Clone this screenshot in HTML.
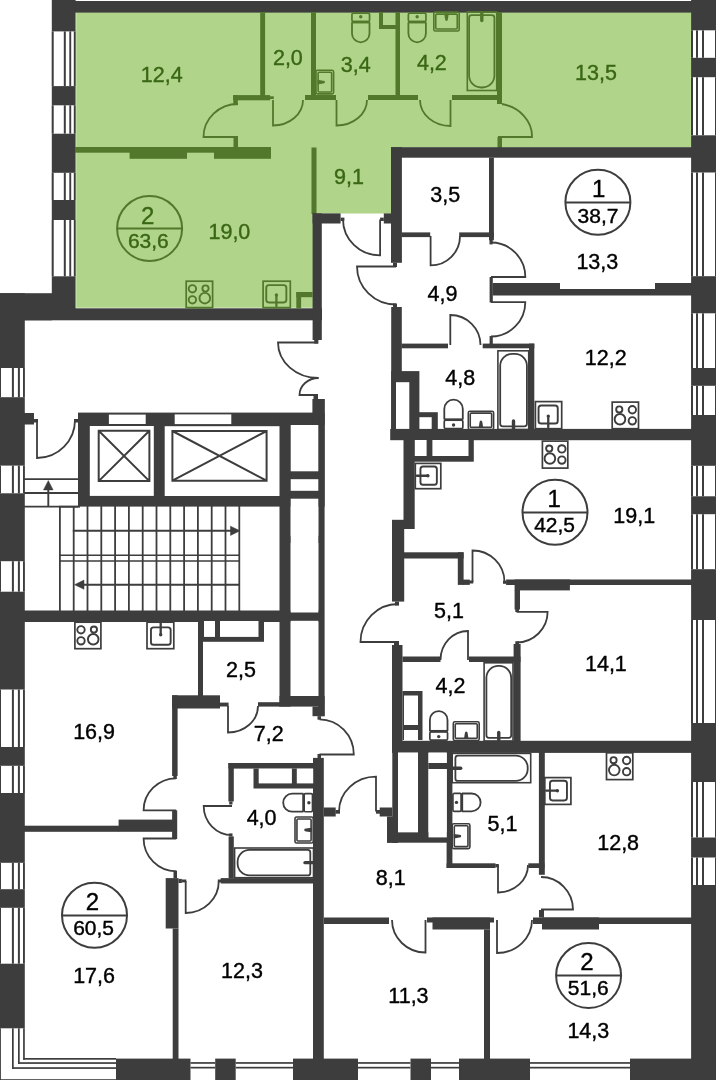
<!DOCTYPE html>
<html lang="ru">
<head>
<meta charset="utf-8">
<title>План этажа</title>
<style>
html,body{margin:0;padding:0;background:#fff;}
body{width:716px;height:1080px;overflow:hidden;font-family:"Liberation Sans",Arial,sans-serif;}
svg{display:block;}
</style>
</head>
<body>
<svg width="716" height="1080" viewBox="0 0 716 1080" font-family="'Liberation Sans', Arial, sans-serif">
<path d="M76.2 12H691.3V147.4H391.2V213.4H316V307.7H76.2Z" fill="#b0d48a"/>
<rect x="52" y="1" width="664" height="11.6" fill="#3d3d3d"/>
<rect x="51.8" y="0" width="23.8" height="320" fill="#3d3d3d"/>
<rect x="0" y="293.2" width="52" height="27.1" fill="#3d3d3d"/>
<rect x="0" y="308.3" width="322" height="12" fill="#3d3d3d"/>
<rect x="0" y="293.2" width="24.8" height="786.8" fill="#3d3d3d"/>
<rect x="691.1" y="0" width="24.9" height="1080" fill="#3d3d3d"/>
<rect x="116" y="1058.6" width="600" height="21.4" fill="#3d3d3d"/>
<rect x="51.7" y="31.4" width="24.1" height="54.7" fill="#fff"/>
<rect x="51.8" y="31.4" width="1.9" height="54.7" fill="#3d3d3d"/>
<rect x="63.8" y="31.4" width="2" height="54.7" fill="#3d3d3d"/>
<rect x="69.3" y="31.4" width="1.9" height="54.7" fill="#3d3d3d"/>
<rect x="73.8" y="31.4" width="1.9" height="54.7" fill="#3d3d3d"/>
<rect x="51.7" y="105.3" width="24.1" height="28.4" fill="#fff"/>
<rect x="51.8" y="105.3" width="1.9" height="28.4" fill="#3d3d3d"/>
<rect x="63.8" y="105.3" width="2" height="28.4" fill="#3d3d3d"/>
<rect x="69.3" y="105.3" width="1.9" height="28.4" fill="#3d3d3d"/>
<rect x="73.8" y="105.3" width="1.9" height="28.4" fill="#3d3d3d"/>
<rect x="51.7" y="172.8" width="24.1" height="27.2" fill="#fff"/>
<rect x="51.8" y="172.8" width="1.9" height="27.2" fill="#3d3d3d"/>
<rect x="63.8" y="172.8" width="2" height="27.2" fill="#3d3d3d"/>
<rect x="69.3" y="172.8" width="1.9" height="27.2" fill="#3d3d3d"/>
<rect x="73.8" y="172.8" width="1.9" height="27.2" fill="#3d3d3d"/>
<rect x="51.7" y="220" width="24.1" height="56.3" fill="#fff"/>
<rect x="51.8" y="220" width="1.9" height="56.3" fill="#3d3d3d"/>
<rect x="63.8" y="220" width="2" height="56.3" fill="#3d3d3d"/>
<rect x="69.3" y="220" width="1.9" height="56.3" fill="#3d3d3d"/>
<rect x="73.8" y="220" width="1.9" height="56.3" fill="#3d3d3d"/>
<rect x="-0.2" y="368" width="25.2" height="29.2" fill="#fff"/>
<rect x="0" y="368" width="1" height="29.2" fill="#3d3d3d"/>
<rect x="11.9" y="368" width="2" height="29.2" fill="#3d3d3d"/>
<rect x="17.9" y="368" width="2" height="29.2" fill="#3d3d3d"/>
<rect x="23" y="368" width="1.9" height="29.2" fill="#3d3d3d"/>
<rect x="-0.2" y="465.6" width="25.2" height="27.7" fill="#fff"/>
<rect x="0" y="465.6" width="1" height="27.7" fill="#3d3d3d"/>
<rect x="11.9" y="465.6" width="2" height="27.7" fill="#3d3d3d"/>
<rect x="17.9" y="465.6" width="2" height="27.7" fill="#3d3d3d"/>
<rect x="23" y="465.6" width="1.9" height="27.7" fill="#3d3d3d"/>
<rect x="-0.2" y="561.2" width="25.2" height="30.5" fill="#fff"/>
<rect x="0" y="561.2" width="1" height="30.5" fill="#3d3d3d"/>
<rect x="11.9" y="561.2" width="2" height="30.5" fill="#3d3d3d"/>
<rect x="17.9" y="561.2" width="2" height="30.5" fill="#3d3d3d"/>
<rect x="23" y="561.2" width="1.9" height="30.5" fill="#3d3d3d"/>
<rect x="-0.2" y="689.5" width="25.2" height="57.5" fill="#fff"/>
<rect x="0" y="689.5" width="1" height="57.5" fill="#3d3d3d"/>
<rect x="11.9" y="689.5" width="2" height="57.5" fill="#3d3d3d"/>
<rect x="17.9" y="689.5" width="2" height="57.5" fill="#3d3d3d"/>
<rect x="23" y="689.5" width="1.9" height="57.5" fill="#3d3d3d"/>
<rect x="-0.2" y="765.8" width="25.2" height="27.2" fill="#fff"/>
<rect x="0" y="765.8" width="1" height="27.2" fill="#3d3d3d"/>
<rect x="11.9" y="765.8" width="2" height="27.2" fill="#3d3d3d"/>
<rect x="17.9" y="765.8" width="2" height="27.2" fill="#3d3d3d"/>
<rect x="23" y="765.8" width="1.9" height="27.2" fill="#3d3d3d"/>
<rect x="-0.2" y="862.8" width="25.2" height="26.4" fill="#fff"/>
<rect x="0" y="862.8" width="1" height="26.4" fill="#3d3d3d"/>
<rect x="11.9" y="862.8" width="2" height="26.4" fill="#3d3d3d"/>
<rect x="17.9" y="862.8" width="2" height="26.4" fill="#3d3d3d"/>
<rect x="23" y="862.8" width="1.9" height="26.4" fill="#3d3d3d"/>
<rect x="-0.2" y="907.8" width="25.2" height="55.9" fill="#fff"/>
<rect x="0" y="907.8" width="1" height="55.9" fill="#3d3d3d"/>
<rect x="11.9" y="907.8" width="2" height="55.9" fill="#3d3d3d"/>
<rect x="17.9" y="907.8" width="2" height="55.9" fill="#3d3d3d"/>
<rect x="23" y="907.8" width="1.9" height="55.9" fill="#3d3d3d"/>
<rect x="690.9" y="30.3" width="25.3" height="27.5" fill="#fff"/>
<rect x="691" y="30.3" width="2" height="27.5" fill="#3d3d3d"/>
<rect x="696" y="30.3" width="2" height="27.5" fill="#3d3d3d"/>
<rect x="702" y="30.3" width="2" height="27.5" fill="#3d3d3d"/>
<rect x="715" y="30.3" width="1" height="27.5" fill="#3d3d3d"/>
<rect x="690.9" y="77.2" width="25.3" height="58.1" fill="#fff"/>
<rect x="691" y="77.2" width="2" height="58.1" fill="#3d3d3d"/>
<rect x="696" y="77.2" width="2" height="58.1" fill="#3d3d3d"/>
<rect x="702" y="77.2" width="2" height="58.1" fill="#3d3d3d"/>
<rect x="715" y="77.2" width="1" height="58.1" fill="#3d3d3d"/>
<rect x="690.9" y="172.5" width="25.3" height="103.7" fill="#fff"/>
<rect x="691" y="172.5" width="2" height="103.7" fill="#3d3d3d"/>
<rect x="696" y="172.5" width="2" height="103.7" fill="#3d3d3d"/>
<rect x="702" y="172.5" width="2" height="103.7" fill="#3d3d3d"/>
<rect x="715" y="172.5" width="1" height="103.7" fill="#3d3d3d"/>
<rect x="690.9" y="313.3" width="25.3" height="54.7" fill="#fff"/>
<rect x="691" y="313.3" width="2" height="54.7" fill="#3d3d3d"/>
<rect x="696" y="313.3" width="2" height="54.7" fill="#3d3d3d"/>
<rect x="702" y="313.3" width="2" height="54.7" fill="#3d3d3d"/>
<rect x="715" y="313.3" width="1" height="54.7" fill="#3d3d3d"/>
<rect x="690.9" y="385.8" width="25.3" height="29.2" fill="#fff"/>
<rect x="691" y="385.8" width="2" height="29.2" fill="#3d3d3d"/>
<rect x="696" y="385.8" width="2" height="29.2" fill="#3d3d3d"/>
<rect x="702" y="385.8" width="2" height="29.2" fill="#3d3d3d"/>
<rect x="715" y="385.8" width="1" height="29.2" fill="#3d3d3d"/>
<rect x="690.9" y="465.8" width="25.3" height="30.5" fill="#fff"/>
<rect x="691" y="465.8" width="2" height="30.5" fill="#3d3d3d"/>
<rect x="696" y="465.8" width="2" height="30.5" fill="#3d3d3d"/>
<rect x="702" y="465.8" width="2" height="30.5" fill="#3d3d3d"/>
<rect x="715" y="465.8" width="1" height="30.5" fill="#3d3d3d"/>
<rect x="690.9" y="514.2" width="25.3" height="55" fill="#fff"/>
<rect x="691" y="514.2" width="2" height="55" fill="#3d3d3d"/>
<rect x="696" y="514.2" width="2" height="55" fill="#3d3d3d"/>
<rect x="702" y="514.2" width="2" height="55" fill="#3d3d3d"/>
<rect x="715" y="514.2" width="1" height="55" fill="#3d3d3d"/>
<rect x="690.9" y="620" width="25.3" height="103" fill="#fff"/>
<rect x="691" y="620" width="2" height="103" fill="#3d3d3d"/>
<rect x="696" y="620" width="2" height="103" fill="#3d3d3d"/>
<rect x="702" y="620" width="2" height="103" fill="#3d3d3d"/>
<rect x="715" y="620" width="1" height="103" fill="#3d3d3d"/>
<rect x="690.9" y="782" width="25.3" height="55.5" fill="#fff"/>
<rect x="691" y="782" width="2" height="55.5" fill="#3d3d3d"/>
<rect x="696" y="782" width="2" height="55.5" fill="#3d3d3d"/>
<rect x="702" y="782" width="2" height="55.5" fill="#3d3d3d"/>
<rect x="715" y="782" width="1" height="55.5" fill="#3d3d3d"/>
<rect x="690.9" y="857.5" width="25.3" height="27.5" fill="#fff"/>
<rect x="691" y="857.5" width="2" height="27.5" fill="#3d3d3d"/>
<rect x="696" y="857.5" width="2" height="27.5" fill="#3d3d3d"/>
<rect x="702" y="857.5" width="2" height="27.5" fill="#3d3d3d"/>
<rect x="715" y="857.5" width="1" height="27.5" fill="#3d3d3d"/>
<rect x="190.5" y="1057.6" width="24.7" height="23.4" fill="#fff"/>
<rect x="190.5" y="1062.1" width="24.7" height="1.7" fill="#3d3d3d"/>
<rect x="190.5" y="1066.8" width="24.7" height="1.7" fill="#3d3d3d"/>
<rect x="235.7" y="1057.6" width="57.3" height="23.4" fill="#fff"/>
<rect x="235.7" y="1062.1" width="57.3" height="1.7" fill="#3d3d3d"/>
<rect x="235.7" y="1066.8" width="57.3" height="1.7" fill="#3d3d3d"/>
<rect x="358" y="1057.6" width="52.5" height="23.4" fill="#fff"/>
<rect x="358" y="1062.1" width="52.5" height="1.7" fill="#3d3d3d"/>
<rect x="358" y="1066.8" width="52.5" height="1.7" fill="#3d3d3d"/>
<rect x="431" y="1057.6" width="28" height="23.4" fill="#fff"/>
<rect x="431" y="1062.1" width="28" height="1.7" fill="#3d3d3d"/>
<rect x="431" y="1066.8" width="28" height="1.7" fill="#3d3d3d"/>
<rect x="530" y="1057.6" width="100" height="23.4" fill="#fff"/>
<rect x="530" y="1062.1" width="100" height="1.7" fill="#3d3d3d"/>
<rect x="530" y="1066.8" width="100" height="1.7" fill="#3d3d3d"/>
<rect x="-1" y="1028.3" width="26" height="52.7" fill="#fff"/>
<rect x="-1" y="1058" width="117" height="23" fill="#fff"/>
<rect x="-0.8" y="1028.3" width="1.7" height="52.6" fill="#3d3d3d"/>
<rect x="-0.8" y="1079.2" width="116.8" height="1.7" fill="#3d3d3d"/>
<rect x="12" y="1028.3" width="1.7" height="40.6" fill="#3d3d3d"/>
<rect x="12" y="1067.2" width="104" height="1.7" fill="#3d3d3d"/>
<rect x="18" y="1028.3" width="1.7" height="35.6" fill="#3d3d3d"/>
<rect x="18" y="1062.2" width="98" height="1.7" fill="#3d3d3d"/>
<rect x="23.1" y="1028.3" width="1.7" height="31.4" fill="#3d3d3d"/>
<rect x="23.1" y="1058" width="92.9" height="1.7" fill="#3d3d3d"/>
<rect x="260.2" y="12" width="4.9" height="88" fill="#52792b"/>
<rect x="233.1" y="95.1" width="37" height="5.2" fill="#52792b"/>
<rect x="233.3" y="95.1" width="4.5" height="10" fill="#52792b"/>
<rect x="270" y="96.3" width="3.8" height="2.7" fill="#52792b"/>
<rect x="311" y="12" width="5" height="88" fill="#52792b"/>
<rect x="305" y="95" width="31" height="5" fill="#52792b"/>
<rect x="395.5" y="12" width="4.5" height="88" fill="#52792b"/>
<rect x="368" y="95" width="50" height="5" fill="#52792b"/>
<rect x="452" y="95" width="50" height="5" fill="#52792b"/>
<rect x="379" y="12" width="4" height="17" fill="#52792b"/>
<rect x="379" y="25" width="17" height="4" fill="#52792b"/>
<rect x="497" y="12" width="5" height="92" fill="#52792b"/>
<rect x="75" y="147" width="196" height="5.7" fill="#52792b"/>
<rect x="129.6" y="147" width="57.4" height="11.8" fill="#52792b"/>
<rect x="214" y="147" width="57" height="11.8" fill="#52792b"/>
<rect x="233.5" y="137" width="4.5" height="11" fill="#52792b"/>
<rect x="311.5" y="147.5" width="5" height="66.5" fill="#52792b"/>
<rect x="497.5" y="137" width="4.5" height="11" fill="#52792b"/>
<rect x="296.3" y="292" width="16.2" height="5.2" fill="#52792b"/>
<rect x="296.3" y="292" width="4.8" height="16.5" fill="#52792b"/>
<rect x="312.6" y="213.4" width="28" height="10.1" fill="#3d3d3d"/>
<rect x="312.6" y="213.4" width="9.2" height="126.6" fill="#3d3d3d"/>
<rect x="314.2" y="340" width="4.2" height="3.6" fill="#3d3d3d"/>
<rect x="340.6" y="217.6" width="3.8" height="3.4" fill="#3d3d3d"/>
<rect x="380.1" y="217.6" width="3.7" height="3.4" fill="#3d3d3d"/>
<rect x="383.8" y="213.4" width="8.2" height="10.1" fill="#3d3d3d"/>
<rect x="391" y="147.2" width="325" height="10.5" fill="#3d3d3d"/>
<rect x="391" y="147.2" width="10.9" height="115.6" fill="#3d3d3d"/>
<rect x="393" y="262.8" width="4" height="4.2" fill="#3d3d3d"/>
<rect x="489" y="157.6" width="4.9" height="82.7" fill="#3d3d3d"/>
<rect x="489.5" y="240" width="3.2" height="4.4" fill="#3d3d3d"/>
<rect x="401.5" y="232.4" width="28.7" height="4.7" fill="#3d3d3d"/>
<rect x="459.2" y="232.4" width="34.7" height="4.7" fill="#3d3d3d"/>
<rect x="489.6" y="277" width="3.2" height="25.5" fill="#3d3d3d"/>
<rect x="489.6" y="336" width="3.2" height="8" fill="#3d3d3d"/>
<rect x="492.7" y="283" width="67.3" height="12.5" fill="#3d3d3d"/>
<rect x="560" y="289" width="95" height="6.5" fill="#3d3d3d"/>
<rect x="655" y="283" width="37" height="12.5" fill="#3d3d3d"/>
<rect x="391.2" y="307" width="10.6" height="133" fill="#3d3d3d"/>
<rect x="393" y="303.5" width="4" height="3.5" fill="#3d3d3d"/>
<rect x="401.5" y="343.6" width="46.5" height="4.7" fill="#3d3d3d"/>
<rect x="482.7" y="343.6" width="51.6" height="4.7" fill="#3d3d3d"/>
<rect x="529" y="343.6" width="5.3" height="86.4" fill="#3d3d3d"/>
<rect x="390.2" y="428.9" width="301.8" height="11.3" fill="#3d3d3d"/>
<rect x="391.2" y="371.1" width="28.2" height="58.9" fill="#3d3d3d"/>
<rect x="419" y="412.2" width="18.8" height="17.8" fill="#3d3d3d"/>
<rect x="403.5" y="440" width="11.2" height="89" fill="#3d3d3d"/>
<rect x="392" y="519.8" width="12.2" height="81.8" fill="#3d3d3d"/>
<rect x="395" y="601.6" width="4" height="4" fill="#3d3d3d"/>
<rect x="414" y="440" width="59.8" height="21.7" fill="#3d3d3d"/>
<rect x="403" y="552.3" width="60.6" height="6.2" fill="#3d3d3d"/>
<rect x="457.8" y="552.3" width="5.8" height="32.6" fill="#3d3d3d"/>
<rect x="462.7" y="579.6" width="7.1" height="5.3" fill="#3d3d3d"/>
<rect x="469" y="580.5" width="4.3" height="3" fill="#3d3d3d"/>
<rect x="506.1" y="579.5" width="185.9" height="5.5" fill="#3d3d3d"/>
<rect x="514.6" y="579.5" width="55.3" height="10.9" fill="#3d3d3d"/>
<rect x="503" y="580.7" width="3.5" height="3.1" fill="#3d3d3d"/>
<rect x="514.6" y="590" width="5.4" height="19.5" fill="#3d3d3d"/>
<rect x="515.3" y="609" width="3.7" height="3" fill="#3d3d3d"/>
<rect x="392" y="645" width="10.5" height="107" fill="#3d3d3d"/>
<rect x="394" y="641" width="5" height="4" fill="#3d3d3d"/>
<rect x="402.5" y="656.5" width="38" height="5.5" fill="#3d3d3d"/>
<rect x="469" y="656.5" width="51.5" height="5.5" fill="#3d3d3d"/>
<rect x="513.6" y="644" width="7" height="108" fill="#3d3d3d"/>
<rect x="515.3" y="641.3" width="3.7" height="2.7" fill="#3d3d3d"/>
<rect x="402.5" y="691" width="20" height="49" fill="#3d3d3d"/>
<rect x="392" y="740.8" width="300" height="12.1" fill="#3d3d3d"/>
<rect x="78" y="412.6" width="246.6" height="94" fill="#3d3d3d"/>
<rect x="312.4" y="399" width="12.2" height="26" fill="#3d3d3d"/>
<rect x="318.3" y="399" width="6.3" height="317.2" fill="#3d3d3d"/>
<rect x="312.5" y="706.6" width="12.1" height="9.6" fill="#3d3d3d"/>
<rect x="317.5" y="716.2" width="3.5" height="3.5" fill="#3d3d3d"/>
<rect x="313.5" y="395" width="4.5" height="4" fill="#3d3d3d"/>
<rect x="279.5" y="413" width="11.2" height="293.6" fill="#3d3d3d"/>
<rect x="279.5" y="696" width="45.1" height="10.6" fill="#3d3d3d"/>
<rect x="24" y="610.5" width="300" height="11.5" fill="#3d3d3d"/>
<rect x="24" y="413" width="10" height="11.5" fill="#3d3d3d"/>
<rect x="34" y="419" width="4" height="3.5" fill="#3d3d3d"/>
<rect x="74" y="419" width="5" height="3.5" fill="#3d3d3d"/>
<rect x="198" y="621" width="5" height="75" fill="#3d3d3d"/>
<rect x="203" y="621" width="61" height="20.8" fill="#3d3d3d"/>
<rect x="172.1" y="695.3" width="47.9" height="13.2" fill="#3d3d3d"/>
<rect x="219.5" y="702.6" width="9.1" height="3.9" fill="#3d3d3d"/>
<rect x="258" y="702.2" width="22" height="4.4" fill="#3d3d3d"/>
<rect x="172.1" y="695.3" width="5.5" height="80.7" fill="#3d3d3d"/>
<rect x="173.3" y="776" width="3.5" height="3" fill="#3d3d3d"/>
<rect x="172.1" y="810.4" width="5.1" height="28.6" fill="#3d3d3d"/>
<rect x="313" y="757.9" width="10.8" height="322.1" fill="#3d3d3d"/>
<rect x="317.5" y="754" width="3.5" height="4" fill="#3d3d3d"/>
<rect x="228.4" y="763" width="85.1" height="5.6" fill="#3d3d3d"/>
<rect x="228.4" y="763" width="5.4" height="38.5" fill="#3d3d3d"/>
<rect x="229.2" y="801.5" width="3.3" height="3" fill="#3d3d3d"/>
<rect x="253.5" y="768.6" width="60" height="19.9" fill="#3d3d3d"/>
<rect x="24" y="825.7" width="95" height="6.1" fill="#3d3d3d"/>
<rect x="118.6" y="819.6" width="54.4" height="12.2" fill="#3d3d3d"/>
<rect x="165.7" y="878.1" width="12.8" height="50.4" fill="#3d3d3d"/>
<rect x="172.7" y="928.5" width="5.8" height="130.5" fill="#3d3d3d"/>
<rect x="173.5" y="870.7" width="3.5" height="7.4" fill="#3d3d3d"/>
<rect x="178.5" y="878.9" width="3.3" height="4.1" fill="#3d3d3d"/>
<rect x="181.5" y="879.5" width="4.8" height="2.9" fill="#3d3d3d"/>
<rect x="217.8" y="879.5" width="3.2" height="2.9" fill="#3d3d3d"/>
<rect x="220.7" y="878.1" width="92.8" height="5.4" fill="#3d3d3d"/>
<rect x="228.6" y="836.4" width="5.2" height="41.7" fill="#3d3d3d"/>
<rect x="229.2" y="833.4" width="3.3" height="3" fill="#3d3d3d"/>
<rect x="392.3" y="752" width="5.7" height="91" fill="#3d3d3d"/>
<rect x="387" y="816.5" width="11" height="26.2" fill="#3d3d3d"/>
<rect x="418" y="752" width="10.5" height="82" fill="#3d3d3d"/>
<rect x="387" y="832.2" width="60" height="10.5" fill="#3d3d3d"/>
<rect x="428.5" y="763" width="18.5" height="6" fill="#3d3d3d"/>
<rect x="446.6" y="752" width="5.8" height="116" fill="#3d3d3d"/>
<rect x="323.8" y="807.5" width="11.9" height="9" fill="#3d3d3d"/>
<rect x="335.5" y="810" width="4.5" height="3.7" fill="#3d3d3d"/>
<rect x="376" y="810" width="4" height="3.7" fill="#3d3d3d"/>
<rect x="379.7" y="807.5" width="12.6" height="9" fill="#3d3d3d"/>
<rect x="446.6" y="863.3" width="48.9" height="4.7" fill="#3d3d3d"/>
<rect x="495.3" y="864" width="3.5" height="3.3" fill="#3d3d3d"/>
<rect x="528.3" y="863.3" width="16.2" height="4.7" fill="#3d3d3d"/>
<rect x="538.9" y="752" width="5.9" height="122.8" fill="#3d3d3d"/>
<rect x="324" y="917.5" width="65" height="6.5" fill="#3d3d3d"/>
<rect x="427" y="917.5" width="67" height="5" fill="#3d3d3d"/>
<rect x="432.5" y="917.5" width="57.5" height="12" fill="#3d3d3d"/>
<rect x="484" y="929.5" width="6" height="129.5" fill="#3d3d3d"/>
<rect x="533" y="917.5" width="159" height="6.5" fill="#3d3d3d"/>
<rect x="542" y="917.5" width="57" height="12" fill="#3d3d3d"/>
<rect x="539" y="910" width="5" height="7.5" fill="#3d3d3d"/>
<rect x="89.8" y="426" width="64" height="69.9" fill="#fff"/>
<rect x="164.7" y="426.2" width="114.8" height="69.8" fill="#fff"/>
<rect x="108.9" y="414.6" width="36.8" height="9.4" fill="#fff"/>
<rect x="174.7" y="414.4" width="56.6" height="9.7" fill="#fff"/>
<rect x="290.7" y="425" width="27.6" height="46.3" fill="#fff"/>
<rect x="290.7" y="479.2" width="27.6" height="11.6" fill="#fff"/>
<rect x="290.7" y="498.7" width="27.6" height="37.1" fill="#fff"/>
<rect x="290.7" y="543" width="27.6" height="69.5" fill="#fff"/>
<rect x="290.7" y="620.8" width="27.6" height="75.2" fill="#fff"/>
<rect x="396" y="382.2" width="13.3" height="46.7" fill="#fff"/>
<rect x="419.4" y="417.2" width="12.3" height="11.7" fill="#fff"/>
<rect x="414.8" y="440" width="11.8" height="16" fill="#fff"/>
<rect x="432.4" y="440" width="36.1" height="16" fill="#fff"/>
<rect x="204" y="621" width="11" height="15.9" fill="#fff"/>
<rect x="220" y="621" width="38.5" height="15.9" fill="#fff"/>
<rect x="258.7" y="768.6" width="33.2" height="14.8" fill="#fff"/>
<rect x="296.8" y="768.6" width="16.4" height="14.8" fill="#fff"/>
<rect x="404" y="695.5" width="14" height="29.5" fill="#fff"/>
<rect x="404" y="730" width="14" height="10" fill="#fff"/>
<rect x="398" y="752.5" width="20" height="79.7" fill="#fff"/>
<rect x="428.5" y="752.5" width="18.3" height="10.5" fill="#fff"/>
<rect x="428.5" y="769" width="18.3" height="68.4" fill="#fff"/>
<path d="M98.7 430.8H149.4V481.1H98.7Z M98.7 430.8L149.4 481.1 M149.4 430.8L98.7 481.1" stroke="#3d3d3d" stroke-width="2" fill="none"/>
<path d="M172.4 431H266.6V480.7H172.4Z M172.4 431L266.6 480.7 M266.6 431L172.4 480.7" stroke="#3d3d3d" stroke-width="2" fill="none"/>
<path d="M24 479.2L78 479.2" stroke="#3d3d3d" stroke-width="1.8" fill="none"/>
<path d="M24 493L78 493" stroke="#3d3d3d" stroke-width="1.8" fill="none"/>
<path d="M24 506.7L78 506.7" stroke="#3d3d3d" stroke-width="1.8" fill="none"/>
<path d="M48.3 506L48.3 488" stroke="#3d3d3d" stroke-width="1.9" fill="none"/>
<path d="M43.5 489.9L48.3 480.6L53.1 489.9Z" stroke="#3d3d3d" stroke-width="0.5" fill="#3d3d3d"/>
<path d="M59.9 506L59.9 611" stroke="#3d3d3d" stroke-width="1.8" fill="none"/>
<path d="M73.7 506L73.7 611" stroke="#3d3d3d" stroke-width="1.8" fill="none"/>
<path d="M87.5 506L87.5 611" stroke="#3d3d3d" stroke-width="1.8" fill="none"/>
<path d="M101.3 506L101.3 611" stroke="#3d3d3d" stroke-width="1.8" fill="none"/>
<path d="M115.1 506L115.1 611" stroke="#3d3d3d" stroke-width="1.8" fill="none"/>
<path d="M128.9 506L128.9 611" stroke="#3d3d3d" stroke-width="1.8" fill="none"/>
<path d="M142.7 506L142.7 611" stroke="#3d3d3d" stroke-width="1.8" fill="none"/>
<path d="M156.5 506L156.5 611" stroke="#3d3d3d" stroke-width="1.8" fill="none"/>
<path d="M170.3 506L170.3 611" stroke="#3d3d3d" stroke-width="1.8" fill="none"/>
<path d="M184.1 506L184.1 611" stroke="#3d3d3d" stroke-width="1.8" fill="none"/>
<path d="M197.9 506L197.9 611" stroke="#3d3d3d" stroke-width="1.8" fill="none"/>
<path d="M211.7 506L211.7 611" stroke="#3d3d3d" stroke-width="1.8" fill="none"/>
<path d="M225.5 506L225.5 611" stroke="#3d3d3d" stroke-width="1.8" fill="none"/>
<path d="M239.3 506L239.3 611" stroke="#3d3d3d" stroke-width="1.8" fill="none"/>
<path d="M59 506.7L80 506.7" stroke="#3d3d3d" stroke-width="1.8" fill="none"/>
<path d="M59.9 555.3L239.3 555.3" stroke="#3d3d3d" stroke-width="1.6" fill="none"/>
<path d="M59.9 561L239.3 561" stroke="#3d3d3d" stroke-width="1.6" fill="none"/>
<path d="M72.8 530.8L232 530.8" stroke="#3d3d3d" stroke-width="1.9" fill="none"/>
<path d="M230.5 526.2L240 530.8L230.5 535.4Z" stroke="#3d3d3d" stroke-width="0.5" fill="#3d3d3d"/>
<path d="M83 584.7L239.3 584.7" stroke="#3d3d3d" stroke-width="1.9" fill="none"/>
<path d="M84 580.1L74.5 584.7L84 589.3Z" stroke="#3d3d3d" stroke-width="0.5" fill="#3d3d3d"/>
<path d="M238 137L203.5 137A34.5 33 0 0 1 238 104" stroke="#52792b" stroke-width="1.8" fill="none"/>
<path d="M273 100L273 125.5A30 25.5 0 0 0 303 100" stroke="#52792b" stroke-width="1.8" fill="none"/>
<path d="M336.5 100L336.5 125.5A30.5 25.5 0 0 0 367 100" stroke="#52792b" stroke-width="1.8" fill="none"/>
<path d="M450.5 100L450.5 126A30.5 26 0 0 1 420 100" stroke="#52792b" stroke-width="1.8" fill="none"/>
<path d="M498 137L532 137A38 33 0 0 0 502 104" stroke="#52792b" stroke-width="1.8" fill="none"/>
<path d="M318 342.5L278 342.5A40.5 35.5 0 0 0 318.5 378" stroke="#3d3d3d" stroke-width="1.8" fill="none"/>
<path d="M318 395L299.5 395A19 17 0 0 1 318.5 378" stroke="#3d3d3d" stroke-width="1.8" fill="none"/>
<path d="M37 420L37 458A38 38 0 0 0 75 420" stroke="#3d3d3d" stroke-width="1.8" fill="none"/>
<path d="M430.6 236L430.6 265.4A29.4 29.4 0 0 0 460 236" stroke="#3d3d3d" stroke-width="1.8" fill="none"/>
<path d="M450.3 345L450.3 315A30.2 30 0 0 1 480.5 345" stroke="#3d3d3d" stroke-width="1.8" fill="none"/>
<path d="M380.1 219.5L380.1 255.3A37.1 35.8 0 0 1 343 219.5" stroke="#3d3d3d" stroke-width="1.8" fill="none"/>
<path d="M396 266.5L357 266.5A39 38 0 0 0 396 304.5" stroke="#3d3d3d" stroke-width="1.8" fill="none"/>
<path d="M491 277L525.3 277A34.3 34.5 0 0 0 491 242.5" stroke="#3d3d3d" stroke-width="1.8" fill="none"/>
<path d="M491 302.2L525.3 302.2A34.3 34.3 0 0 1 491 336.5" stroke="#3d3d3d" stroke-width="1.8" fill="none"/>
<path d="M398 642L360.5 642A37.5 38 0 0 1 398 604" stroke="#3d3d3d" stroke-width="1.8" fill="none"/>
<path d="M472.5 582L472.5 550.5A32 31.5 0 0 1 504.5 582" stroke="#3d3d3d" stroke-width="1.8" fill="none"/>
<path d="M516.5 611.8L547.6 611.8A31.1 30.7 0 0 1 516.5 642.5" stroke="#3d3d3d" stroke-width="1.8" fill="none"/>
<path d="M468 660L468 631A27.5 29 0 0 0 440.5 660" stroke="#3d3d3d" stroke-width="1.8" fill="none"/>
<path d="M228 706L228 732.5A30 26.5 0 0 0 258 706" stroke="#3d3d3d" stroke-width="1.8" fill="none"/>
<path d="M319.5 754.5L353.8 754.5A34.3 35.2 0 0 0 319.5 719.3" stroke="#3d3d3d" stroke-width="1.8" fill="none"/>
<path d="M176.2 810.4L143.6 810.4A32.6 32.1 0 0 1 176.2 778.3" stroke="#3d3d3d" stroke-width="1.8" fill="none"/>
<path d="M176.2 838.5L143.6 838.5A32.6 32.8 0 0 0 176.2 871.3" stroke="#3d3d3d" stroke-width="1.8" fill="none"/>
<path d="M232 806L203.7 806A28.3 29 0 0 0 232 835" stroke="#3d3d3d" stroke-width="1.8" fill="none"/>
<path d="M185.7 881L185.7 913A33.1 32 0 0 0 218.8 881" stroke="#3d3d3d" stroke-width="1.8" fill="none"/>
<path d="M498 865L498 892.5A30 27.5 0 0 0 528 865" stroke="#3d3d3d" stroke-width="1.8" fill="none"/>
<path d="M376 811.5L376 776.7A37 34.8 0 0 0 339 811.5" stroke="#3d3d3d" stroke-width="1.8" fill="none"/>
<path d="M425.5 920L425.5 952.5A33.5 32.5 0 0 1 392 920" stroke="#3d3d3d" stroke-width="1.8" fill="none"/>
<path d="M497 920L497 953A35 33 0 0 0 532 920" stroke="#3d3d3d" stroke-width="1.8" fill="none"/>
<path d="M541 909.5L573 909.5A32 32.5 0 0 0 541 877" stroke="#3d3d3d" stroke-width="1.8" fill="none"/>
<g transform="translate(213.4 280.4) scale(-1 1)"><g fill="none" stroke="#52792b" stroke-width="1.9"><rect x="0.8" y="0.8" width="26.4" height="26.4" stroke-width="1.7"/><circle cx="7.9" cy="8.1" r="3.1"/><circle cx="21" cy="8.4" r="3.7"/><circle cx="8.6" cy="17.8" r="5.3"/><circle cx="21" cy="19.4" r="3.7"/></g></g>
<g transform="translate(262.3 280.4)"><g fill="none" stroke="#52792b"><rect x="0.8" y="0.8" width="27.2" height="26.4" stroke-width="1.7"/><rect x="3.95" y="4.75" width="20.1" height="17.3" rx="2.6" stroke-width="1.9"/></g><path d="M14.1 15L14.1 25.8" stroke="#52792b" stroke-width="2.3" stroke-linecap="round" fill="none"/><circle cx="14.1" cy="14.6" r="1.7" fill="#52792b"/></g>
<g transform="translate(611.4 401.3)"><g fill="none" stroke="#3d3d3d" stroke-width="1.9"><rect x="0.8" y="0.8" width="26.3" height="26.6" stroke-width="1.7"/><circle cx="7.87" cy="8.16" r="3.1"/><circle cx="20.92" cy="8.46" r="3.7"/><circle cx="8.57" cy="17.93" r="5.3"/><circle cx="20.92" cy="19.54" r="3.7"/></g></g>
<g transform="translate(534.6 400.8)"><g fill="none" stroke="#3d3d3d"><rect x="0.8" y="0.8" width="26.3" height="27.1" stroke-width="1.7"/><rect x="3.95" y="4.75" width="19.2" height="18" rx="2.6" stroke-width="1.9"/></g><path d="M13.65 15.7L13.65 26.5" stroke="#3d3d3d" stroke-width="2.3" stroke-linecap="round" fill="none"/><circle cx="13.65" cy="15.3" r="1.7" fill="#3d3d3d"/></g>
<g transform="translate(541.6 440.3)"><g fill="none" stroke="#3d3d3d" stroke-width="1.9"><rect x="0.8" y="0.8" width="25.4" height="27" stroke-width="1.7"/><circle cx="7.62" cy="8.27" r="3.1"/><circle cx="20.25" cy="8.58" r="3.7"/><circle cx="8.29" cy="18.18" r="5.3"/><circle cx="20.25" cy="19.82" r="3.7"/></g></g>
<g transform="translate(101.7 621.4) scale(-1 1)"><g fill="none" stroke="#3d3d3d" stroke-width="1.9"><rect x="0.8" y="0.8" width="26" height="26.5" stroke-width="1.7"/><circle cx="7.79" cy="8.13" r="3.1"/><circle cx="20.7" cy="8.43" r="3.7"/><circle cx="8.48" cy="17.86" r="5.3"/><circle cx="20.7" cy="19.47" r="3.7"/></g></g>
<g transform="translate(174.6 649.5) rotate(180)"><g fill="none" stroke="#3d3d3d"><rect x="0.8" y="0.8" width="26.8" height="26.5" stroke-width="1.7"/><rect x="3.95" y="4.75" width="19.7" height="17.4" rx="2.6" stroke-width="1.9"/></g><path d="M13.9 15.1L13.9 25.9" stroke="#3d3d3d" stroke-width="2.3" stroke-linecap="round" fill="none"/><circle cx="13.9" cy="14.7" r="1.7" fill="#3d3d3d"/></g>
<g transform="translate(605.7 752)"><g fill="none" stroke="#3d3d3d" stroke-width="1.9"><rect x="0.8" y="0.8" width="26.3" height="26.8" stroke-width="1.7"/><circle cx="7.87" cy="8.22" r="3.1"/><circle cx="20.92" cy="8.52" r="3.7"/><circle cx="8.57" cy="18.05" r="5.3"/><circle cx="20.92" cy="19.68" r="3.7"/></g></g>
<g transform="translate(441.6 462.6) rotate(90)"><g fill="none" stroke="#3d3d3d"><rect x="0.8" y="0.8" width="25.3" height="25.5" stroke-width="1.7"/><rect x="3.95" y="4.75" width="18.2" height="16.4" rx="2.6" stroke-width="1.9"/></g><path d="M13.15 14.1L13.15 24.9" stroke="#3d3d3d" stroke-width="2.3" stroke-linecap="round" fill="none"/><circle cx="13.15" cy="13.7" r="1.7" fill="#3d3d3d"/></g>
<g transform="translate(571.7 776.8) rotate(90)"><g fill="none" stroke="#3d3d3d"><rect x="0.8" y="0.8" width="26.8" height="26.1" stroke-width="1.7"/><rect x="3.95" y="4.75" width="19.7" height="17" rx="2.6" stroke-width="1.9"/></g><path d="M13.9 14.7L13.9 25.5" stroke="#3d3d3d" stroke-width="2.3" stroke-linecap="round" fill="none"/><circle cx="13.9" cy="14.3" r="1.7" fill="#3d3d3d"/></g>
<g transform="translate(443.4 398.8)"><g fill="none" stroke="#3d3d3d" stroke-width="1.8"><path d="M0.9 20.7 V10.15 A9.25 9.25 0 0 1 19.4 10.15 V20.7"/><path d="M0.9 20.9 H19.4" stroke-width="2.7"/><rect x="0.85" y="21.3" width="18.6" height="8.5" rx="1.4" stroke-width="1.7"/></g><circle cx="10.15" cy="26.2" r="1.7" fill="#3d3d3d"/></g>
<g transform="translate(467.5 410.4)"><g fill="none" stroke="#3d3d3d" stroke-width="1.6"><rect x="0.8" y="0.8" width="25.3" height="18.3" rx="1.6"/><rect x="2.75" y="2.75" width="21.4" height="14.25" rx="1"/></g><path d="M11.15 17.6 L12.05 11.9 Q12.05 10.1 13.45 10.1 Q14.85 10.1 14.85 11.9 L15.75 17.6 Z" fill="#3d3d3d"/></g>
<g transform="translate(497.1 350)"><g fill="none" stroke="#3d3d3d" stroke-width="1.8"><rect x="0.8" y="0.8" width="30.8" height="78.7" stroke-width="1.6"/><path d="M3.1 73.8 V15.8 A12 12 0 0 1 15.1 3.8 H17.8 A12 12 0 0 1 29.8 15.8 V73.8 A2.5 2.5 0 0 1 27.3 76.3 H5.6 A2.5 2.5 0 0 1 3.1 73.8 Z"/></g><path d="M16.4 71L16.4 78.5" stroke="#3d3d3d" stroke-width="3.4" stroke-linecap="round" fill="none"/></g>
<g transform="translate(429 710.2)"><g fill="none" stroke="#3d3d3d" stroke-width="1.8"><path d="M0.9 20.9 V9.7 A8.8 8.8 0 0 1 18.5 9.7 V20.9"/><path d="M0.9 21.1 H18.5" stroke-width="2.7"/><rect x="0.85" y="21.5" width="17.7" height="8.5" rx="1.4" stroke-width="1.7"/></g><circle cx="9.7" cy="26.4" r="1.7" fill="#3d3d3d"/></g>
<g transform="translate(452.5 721)"><g fill="none" stroke="#3d3d3d" stroke-width="1.6"><rect x="0.8" y="0.8" width="25.9" height="18.7" rx="1.6"/><rect x="2.75" y="2.75" width="22" height="14.65" rx="1"/></g><path d="M11.45 18 L12.35 12.3 Q12.35 10.5 13.75 10.5 Q15.15 10.5 15.15 12.3 L16.05 18 Z" fill="#3d3d3d"/></g>
<g transform="translate(483.3 662)"><g fill="none" stroke="#3d3d3d" stroke-width="1.8"><rect x="0.8" y="0.8" width="28.9" height="78.2" stroke-width="1.6"/><path d="M3.1 73.3 V15.8 A12 12 0 0 1 15.1 3.8 H15.9 A12 12 0 0 1 27.9 15.8 V73.3 A2.5 2.5 0 0 1 25.4 75.8 H5.6 A2.5 2.5 0 0 1 3.1 73.3 Z"/></g><path d="M15.45 70.5L15.45 78" stroke="#3d3d3d" stroke-width="3.4" stroke-linecap="round" fill="none"/></g>
<g transform="translate(370.4 43.2) rotate(180)"><g fill="none" stroke="#52792b" stroke-width="1.8"><path d="M0.9 20.9 V9.65 A8.75 8.75 0 0 1 18.4 9.65 V20.9"/><path d="M0.9 21.1 H18.4" stroke-width="2.7"/><rect x="0.85" y="21.5" width="17.6" height="8.5" rx="1.4" stroke-width="1.7"/></g><circle cx="9.65" cy="26.4" r="1.7" fill="#52792b"/></g>
<g transform="translate(426.8 43.2) rotate(180)"><g fill="none" stroke="#52792b" stroke-width="1.8"><path d="M0.9 20.9 V9.65 A8.75 8.75 0 0 1 18.4 9.65 V20.9"/><path d="M0.9 21.1 H18.4" stroke-width="2.7"/><rect x="0.85" y="21.5" width="17.6" height="8.5" rx="1.4" stroke-width="1.7"/></g><circle cx="9.65" cy="26.4" r="1.7" fill="#52792b"/></g>
<g transform="translate(460 31.8) rotate(180)"><g fill="none" stroke="#52792b" stroke-width="1.6"><rect x="0.8" y="0.8" width="25.4" height="19" rx="1.6"/><rect x="2.75" y="2.75" width="21.5" height="14.95" rx="1"/></g><path d="M11.2 18.3 L12.1 12.6 Q12.1 10.8 13.5 10.8 Q14.9 10.8 14.9 12.6 L15.8 18.3 Z" fill="#52792b"/></g>
<g transform="translate(497.5 91.3) rotate(180)"><g fill="none" stroke="#52792b" stroke-width="1.8"><rect x="0.8" y="0.8" width="29.4" height="78.5" stroke-width="1.6"/><path d="M3.1 73.6 V15.8 A12 12 0 0 1 15.1 3.8 H16.4 A12 12 0 0 1 28.4 15.8 V73.6 A2.5 2.5 0 0 1 25.9 76.1 H5.6 A2.5 2.5 0 0 1 3.1 73.6 Z"/></g><path d="M15.7 70.8L15.7 78.3" stroke="#52792b" stroke-width="3.4" stroke-linecap="round" fill="none"/></g>
<g transform="translate(334.4 69.5) rotate(90)"><g fill="none" stroke="#52792b" stroke-width="1.6"><rect x="0.8" y="0.8" width="23.6" height="17.6" rx="1.6"/><rect x="2.75" y="2.75" width="19.7" height="13.55" rx="1"/></g><path d="M10.3 16.9 L11.2 11.2 Q11.2 9.4 12.6 9.4 Q14 9.4 14 11.2 L14.9 16.9 Z" fill="#52792b"/></g>
<g transform="translate(282.3 812.6) rotate(-90)"><g fill="none" stroke="#3d3d3d" stroke-width="1.8"><path d="M0.9 21.1 V9.9 A9 9 0 0 1 18.9 9.9 V21.1"/><path d="M0.9 21.3 H18.9" stroke-width="2.7"/><rect x="0.85" y="21.7" width="18.1" height="8.5" rx="1.4" stroke-width="1.7"/></g><circle cx="9.9" cy="26.6" r="1.7" fill="#3d3d3d"/></g>
<g transform="translate(294.2 843.8) rotate(-90)"><g fill="none" stroke="#3d3d3d" stroke-width="1.6"><rect x="0.8" y="0.8" width="26" height="18.2" rx="1.6"/><rect x="2.75" y="2.75" width="22.1" height="14.15" rx="1"/></g><path d="M11.5 17.5 L12.4 11.8 Q12.4 10 13.8 10 Q15.2 10 15.2 11.8 L16.1 17.5 Z" fill="#3d3d3d"/></g>
<g transform="translate(233.8 878.5) rotate(-90)"><g fill="none" stroke="#3d3d3d" stroke-width="1.8"><rect x="0.8" y="0.8" width="29.7" height="78.9" stroke-width="1.6"/><path d="M3.1 74 V15.8 A12 12 0 0 1 15.1 3.8 H16.7 A12 12 0 0 1 28.7 15.8 V74 A2.5 2.5 0 0 1 26.2 76.5 H5.6 A2.5 2.5 0 0 1 3.1 74 Z"/></g><path d="M15.85 71.2L15.85 78.7" stroke="#3d3d3d" stroke-width="3.4" stroke-linecap="round" fill="none"/></g>
<g transform="translate(531.5 752.6) rotate(90)"><g fill="none" stroke="#3d3d3d" stroke-width="1.8"><rect x="0.8" y="0.8" width="29.3" height="78.5" stroke-width="1.6"/><path d="M3.1 73.6 V15.8 A12 12 0 0 1 15.1 3.8 H16.3 A12 12 0 0 1 28.3 15.8 V73.6 A2.5 2.5 0 0 1 25.8 76.1 H5.6 A2.5 2.5 0 0 1 3.1 73.6 Z"/></g><path d="M15.65 70.8L15.65 78.3" stroke="#3d3d3d" stroke-width="3.4" stroke-linecap="round" fill="none"/></g>
<g transform="translate(481.5 792.6) rotate(90)"><g fill="none" stroke="#3d3d3d" stroke-width="1.8"><path d="M0.9 19.5 V9.8 A8.9 8.9 0 0 1 18.7 9.8 V19.5"/><path d="M0.9 19.7 H18.7" stroke-width="2.7"/><rect x="0.85" y="20.1" width="17.9" height="8.5" rx="1.4" stroke-width="1.7"/></g><circle cx="9.8" cy="25" r="1.7" fill="#3d3d3d"/></g>
<g transform="translate(470.7 823) rotate(90)"><g fill="none" stroke="#3d3d3d" stroke-width="1.6"><rect x="0.8" y="0.8" width="24.8" height="17.7" rx="1.6"/><rect x="2.75" y="2.75" width="20.9" height="13.65" rx="1"/></g><path d="M10.9 17 L11.8 11.3 Q11.8 9.5 13.2 9.5 Q14.6 9.5 14.6 11.3 L15.5 17 Z" fill="#3d3d3d"/></g>
<circle cx="149.6" cy="228.4" r="32.5" fill="none" stroke="#52792b" stroke-width="2"/>
<path d="M117.1 228.6L182.1 228.6" stroke="#52792b" stroke-width="2" fill="none"/>
<circle cx="597.9" cy="202.3" r="32.5" fill="none" stroke="#3d3d3d" stroke-width="2"/>
<path d="M565.4 202.5L630.4 202.5" stroke="#3d3d3d" stroke-width="2" fill="none"/>
<circle cx="555" cy="512.2" r="32.5" fill="none" stroke="#3d3d3d" stroke-width="2"/>
<path d="M522.5 512.4L587.5 512.4" stroke="#3d3d3d" stroke-width="2" fill="none"/>
<circle cx="94.5" cy="915.2" r="32.5" fill="none" stroke="#3d3d3d" stroke-width="2"/>
<path d="M62 915.4L127 915.4" stroke="#3d3d3d" stroke-width="2" fill="none"/>
<circle cx="588.6" cy="975.4" r="32.5" fill="none" stroke="#3d3d3d" stroke-width="2"/>
<path d="M556.1 975.6L621.1 975.6" stroke="#3d3d3d" stroke-width="2" fill="none"/>
<defs><filter id="tf" x="0" y="0" width="716" height="1080" filterUnits="userSpaceOnUse"><feOffset dx="0" dy="0"/></filter></defs>
<g filter="url(#tf)" stroke-width="0.4">
<text x="140.86" y="82" fill="#3a6714" stroke="#3a6714" font-size="21.5">12,4</text>
<text x="272.95" y="64.5" fill="#3a6714" stroke="#3a6714" font-size="21.5">2,0</text>
<text x="340.8" y="72" fill="#3a6714" stroke="#3a6714" font-size="21.5">3,4</text>
<text x="416.93" y="70.4" fill="#3a6714" stroke="#3a6714" font-size="21.5">4,2</text>
<text x="575.12" y="80" fill="#3a6714" stroke="#3a6714" font-size="21.5">13,5</text>
<text x="333.96" y="183.5" fill="#3a6714" stroke="#3a6714" font-size="21.5">9,1</text>
<text x="208.47" y="239.3" fill="#3a6714" stroke="#3a6714" font-size="21.5">19,0</text>
<text x="430.26" y="202" fill="#000" stroke="#000" font-size="21.5">3,5</text>
<text x="576.42" y="269" fill="#000" stroke="#000" font-size="21.5">13,3</text>
<text x="427.52" y="301" fill="#000" stroke="#000" font-size="21.5">4,9</text>
<text x="445.37" y="384.5" fill="#000" stroke="#000" font-size="21.5">4,8</text>
<text x="584.82" y="365" fill="#000" stroke="#000" font-size="21.5">12,2</text>
<text x="613.32" y="523" fill="#000" stroke="#000" font-size="21.5">19,1</text>
<text x="434.06" y="618" fill="#000" stroke="#000" font-size="21.5">5,1</text>
<text x="435.48" y="693" fill="#000" stroke="#000" font-size="21.5">4,2</text>
<text x="584.97" y="670.8" fill="#000" stroke="#000" font-size="21.5">14,1</text>
<text x="226" y="677" fill="#000" stroke="#000" font-size="21.5">2,5</text>
<text x="253.71" y="740.8" fill="#000" stroke="#000" font-size="21.5">7,2</text>
<text x="73.17" y="739.3" fill="#000" stroke="#000" font-size="21.5">16,9</text>
<text x="246.67" y="825" fill="#000" stroke="#000" font-size="21.5">4,0</text>
<text x="375.76" y="885" fill="#000" stroke="#000" font-size="21.5">8,1</text>
<text x="487.56" y="830.7" fill="#000" stroke="#000" font-size="21.5">5,1</text>
<text x="597.22" y="849.5" fill="#000" stroke="#000" font-size="21.5">12,8</text>
<text x="73.17" y="983" fill="#000" stroke="#000" font-size="21.5">17,6</text>
<text x="221.02" y="977.5" fill="#000" stroke="#000" font-size="21.5">12,3</text>
<text x="388.32" y="1002.5" fill="#000" stroke="#000" font-size="21.5">11,3</text>
<text x="567.42" y="1037.5" fill="#000" stroke="#000" font-size="21.5">14,3</text>
<text x="140.89" y="223.6" fill="#3a6714" stroke="#3a6714" font-size="24">2</text>
<text transform="translate(127.89 248.2) scale(1.06 1)" fill="#3a6714" stroke="#3a6714" font-size="19.8">63,6</text>
<text x="592.09" y="197.1" fill="#000" stroke="#000" font-size="24">1</text>
<text transform="translate(577.59 222.5) scale(1.06 1)" fill="#000" stroke="#000" font-size="19.8">38,7</text>
<text x="547.39" y="507.1" fill="#000" stroke="#000" font-size="24">1</text>
<text transform="translate(534.2 532.2) scale(1.06 1)" fill="#000" stroke="#000" font-size="19.8">42,5</text>
<text x="85.79" y="910.2" fill="#000" stroke="#000" font-size="24">2</text>
<text transform="translate(73.18 935.1) scale(1.06 1)" fill="#000" stroke="#000" font-size="19.8">60,5</text>
<text x="580.14" y="970.2" fill="#000" stroke="#000" font-size="24">2</text>
<text transform="translate(567.84 995.1) scale(1.06 1)" fill="#000" stroke="#000" font-size="19.8">51,6</text>
</g>
</svg>
</body>
</html>
